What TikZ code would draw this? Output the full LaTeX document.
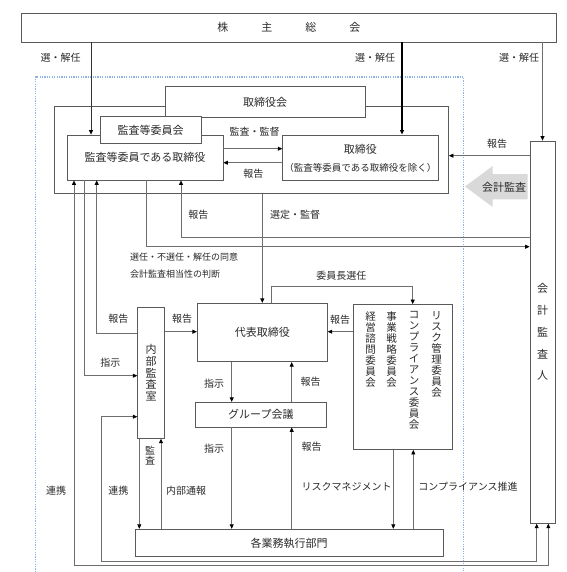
\documentclass[tikz,border=0pt]{standalone}
\usepackage{fontspec}
\setmainfont{Noto Sans CJK JP}
\usetikzlibrary{arrows.meta}
\definecolor{lngray}{HTML}{6E6E6E}
\definecolor{bxgray}{HTML}{5A5A5A}
\definecolor{txt}{HTML}{2A2A2A}
\definecolor{dotblue}{HTML}{8DB4E2}
\definecolor{arrgray}{HTML}{D9D9D9}
\begin{document}
\begin{tikzpicture}[x=1pt,y=-1pt,
  box/.style={draw=bxgray, line width=0.8pt, fill=white, inner sep=0pt, text=txt, font=\fontsize{11}{13}\selectfont},
  ln/.style={draw=lngray, line width=0.75pt},
  arr/.style={ln, -{Triangle[length=4.5pt,width=4pt,color=black]}},
  arrb/.style={ln, {Triangle[length=4.5pt,width=4pt,color=black]}-{Triangle[length=4.5pt,width=4pt,color=black]}},
  lbl/.style={inner sep=0pt, text=txt, font=\fontsize{10}{12}\selectfont},
  slbl/.style={inner sep=0pt, text=txt, font=\fontsize{9}{11}\selectfont, anchor=west},
  vt/.style={inner sep=0pt, text=txt, align=center, anchor=north, font=\fontsize{10.5}{11}\selectfont},
]
\useasboundingbox (0,0) rectangle (566,572);
\fill[white] (0,0) rectangle (566,572);

% dotted frame
\draw[dotblue, line width=1.3pt, dash pattern=on 1.2pt off 1.2pt] (35.5,572) -- (35.5,77) -- (463.5,77) -- (463.5,572);

% boxes
\node[box, minimum width=534.5pt, minimum height=28.6pt] (kabu) at (288.75,27.7) {株\hspace{33pt}主\hspace{33pt}総\hspace{33pt}会};
\node[draw=bxgray, line width=0.8pt, inner sep=0pt, minimum width=394.5pt, minimum height=87.3pt] (board) at (251.25,149.65) {};
\node[box, minimum width=200pt, minimum height=30.8pt] (torikai) at (265,102.1) {取締役会};
\node[box, minimum width=156pt, minimum height=45pt] (kt) at (145,157.5) {監査等委員である取締役};
\node[box, minimum width=101pt, minimum height=27.7pt] (kiin) at (150.5,129.85) {監査等委員会};
\node[box, minimum width=155.3pt, minimum height=45.7pt, align=center] (tori) at (360.35,157.85) {取締役\\[5pt]{\fontsize{9.5}{12}\selectfont （監査等委員である取締役を除く）}};
\node[box, minimum width=25pt, minimum height=382.3pt, align=center, font=\fontsize{11}{21.8}\selectfont] (kaikei) at (542.5,332.15) {会\\計\\監\\査\\人};
\node[box, minimum width=130pt, minimum height=58.4pt] (daihyo) at (262.3,332.5) {代表取締役};
\node[box, minimum width=26.6pt, minimum height=131pt, align=center, font=\fontsize{11}{11.8}\selectfont] (naibu) at (151,372.8) {内\\部\\監\\査\\室};
\node[box, minimum width=130.3pt, minimum height=24.7pt] (group) at (260.85,414.65) {グループ会議};
\node[box, minimum width=99.5pt, minimum height=145pt] (iin) at (403,377) {};
\node[vt] (c1) at (436.7,311.5) {リ\\ス\\ク\\管\\理\\委\\員\\会};
\node[vt] (c2) at (414,311.5) {コ\\ン\\プ\\ラ\\イ\\ア\\ン\\ス\\委\\員\\会};
\node[vt] (c3) at (391.7,311.5) {事\\業\\戦\\略\\委\\員\\会};
\node[vt] (c4) at (370.7,311.5) {経\\営\\諮\\問\\委\\員\\会};
\node[box, minimum width=308.3pt, minimum height=27.5pt] (kaku) at (289.15,542.95) {各業務執行部門};

% grey audit arrow
\fill[arrgray] (527.7,174) -- (492.7,174) -- (492.7,166) -- (465,186.5) -- (492.7,207) -- (492.7,199.3) -- (527.7,199.3) -- cycle;
\node[lbl, font=\fontsize{11}{13}\selectfont] (kkansa) at (504,187) {会計監査};

% reference coordinates
\coordinate (X74) at (74,0);
\coordinate (X84) at (84.3,0);
\coordinate (X91) at (91,0);
\coordinate (X96) at (96.7,0);
\coordinate (X101) at (101.7,0);
\coordinate (X139) at (139.3,0);
\coordinate (X146) at (146.7,0);
\coordinate (X161) at (161,0);
\coordinate (X181) at (181,0);
\coordinate (X231) at (231.7,0);
\coordinate (X262) at (262.3,0);
\coordinate (X271) at (271.7,0);
\coordinate (X291) at (291.7,0);
\coordinate (X393) at (393.3,0);
\coordinate (X402) at (402,0);
\coordinate (X412) at (412.7,0);
\coordinate (X413) at (413.3,0);
\coordinate (X536) at (536.7,0);
\coordinate (X548) at (548.3,0);
\coordinate (Y148) at (0,148.7);
\coordinate (Y155) at (0,155.7);
\coordinate (Y162) at (0,162.7);
\coordinate (Y237) at (0,237.3);
\coordinate (Y247) at (0,246.7);
\coordinate (Y287) at (0,286.7);
\coordinate (Y331) at (0,331.7);
\coordinate (Y333) at (0,333.3);
\coordinate (Y375) at (0,375.7);
\coordinate (Y416) at (0,416.7);
\coordinate (Y561) at (0,561.7);
\coordinate (Y565) at (0,565.3);

% connectors
\draw[arr, draw=black!80] (X91 |- kabu.south) -- (X91 |- kt.north);
\draw[arr, draw=black, line width=1.1pt] (X402 |- kabu.south) -- (X402 |- tori.north);
\draw[arr] (kaikei.north |- kabu.south) -- (kaikei.north);
\draw[arr] (kt.east |- Y148) -- (tori.west |- Y148);
\draw[arr] (tori.west |- Y162) -- (kt.east |- Y162);
\draw[arr] (kaikei.west |- Y155) -- (board.east |- Y155);
\draw[arr] (kaikei.west |- Y237) -| (X181 |- kt.south);
\draw[arr] (X146 |- kt.south) |- (kaikei.west |- Y247);
\draw[arr] (X262 |- board.south) -- (X262 |- daihyo.north);
\draw[arr] (X271 |- daihyo.north) |- (X412 |- Y287) -- (X412 |- iin.north);
\draw[arr] (iin.west |- Y331) -- (daihyo.east |- Y331);
\draw[arr] (naibu.east |- Y331) -- (daihyo.west |- Y331);
\draw[arr] (naibu.west |- Y333) -| (X96 |- kt.south);
\draw[arr] (X84 |- kt.south) |- (naibu.west |- Y375);
\draw[arrb] (naibu.west |- Y416) -| (X101 |- Y561) -| (X536 |- kaikei.south);
\draw[arrb] (X74 |- kt.south) |- (X548 |- Y565) -- (X548 |- kaikei.south);
\draw[arr] (X231 |- daihyo.south) -- (X231 |- group.north);
\draw[arr] (X291 |- group.north) -- (X291 |- daihyo.south);
\draw[arr] (X231 |- group.south) -- (X231 |- kaku.north);
\draw[arr] (X291 |- kaku.north) -- (X291 |- group.south);
\draw[arr] (X139 |- naibu.south) -- (X139 |- kaku.north);
\draw[arr] (X161 |- kaku.north) -- (X161 |- naibu.south);
\draw[arr] (X393 |- iin.south) -- (X393 |- kaku.north);
\draw[arr] (X413 |- kaku.north) -- (X413 |- iin.south);

% labels
\node[lbl] (s1) at (60.5,57.8) {選・解任};
\node[lbl] (s2) at (375,57.8) {選・解任};
\node[lbl] (s3) at (519,57.8) {選・解任};
\node[lbl] (la) at (254.5,131.7) {監査・監督};
\node[lbl] (lb) at (253.3,174) {報告};
\node[lbl] (lc) at (497,144) {報告};
\node[lbl] (ld) at (198.3,214.3) {報告};
\node[lbl] (le) at (295,214.3) {選定・監督};
\node[slbl] (lf) at (130,257.3) {選任・不選任・解任の同意};
\node[slbl] (lg) at (130,274) {会計監査相当性の判断};
\node[lbl] (lh) at (341.3,275.7) {委員長選任};
\node[lbl] (li) at (118.3,319) {報告};
\node[lbl] (lj) at (182,319) {報告};
\node[lbl] (lk) at (340,320) {報告};
\node[lbl] (ll) at (110.3,362.7) {指示};
\node[lbl] (lm) at (214,384) {指示};
\node[lbl] (ln) at (310.7,381.7) {報告};
\node[lbl] (lo) at (214,448.3) {指示};
\node[lbl] (lp) at (311.7,446.7) {報告};
\node[lbl, align=center, font=\fontsize{10}{10}\selectfont] (lq) at (150,455.7) {監\\査};
\node[lbl] (lr) at (56,491) {連携};
\node[lbl] (ls) at (118.3,491) {連携};
\node[lbl] (lt) at (186.2,491) {内部通報};
\node[lbl] (lu) at (346.7,486.7) {リスクマネジメント};
\node[lbl] (lv) at (468,486.7) {コンプライアンス推進};
\end{tikzpicture}
\end{document}
